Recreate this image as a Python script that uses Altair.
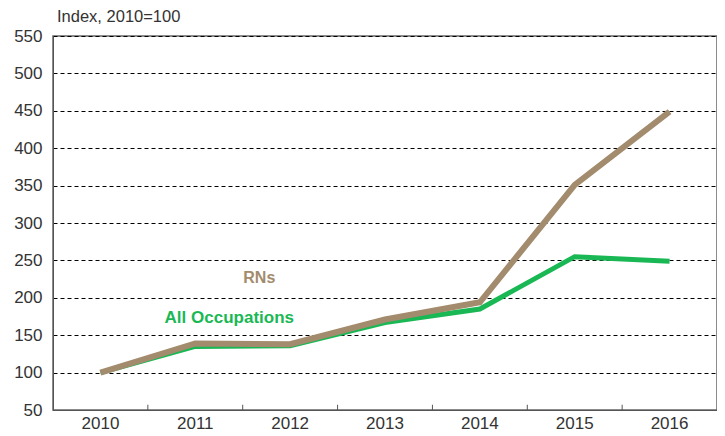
import altair as alt
import pandas as pd

years = ["2010", "2011", "2012", "2013", "2014", "2015", "2016"]
rns = [100, 139, 138, 171, 194, 351, 449]
all_occ = [100, 135, 136, 167, 185, 255, 249]
y_ticks = [50, 100, 150, 200, 250, 300, 350, 400, 450, 500, 550]

series_names = ["All Occupations", "RNs"]
colors = ["#1ab855", "#a38b6d"]

rows = []
for i, y in enumerate(years):
    rows.append({"year": y, "series": "All Occupations", "value": all_occ[i], "order": 0})
    rows.append({"year": y, "series": "RNs", "value": rns[i], "order": 1})
df = pd.DataFrame(rows)

labels = pd.DataFrame({
    "year": ["2011", "2011"],
    "series": ["RNs", "All Occupations"],
    "value": [227, 173],
})

ticks_df = pd.DataFrame({"year": years[1:], "y0": [50] * 6, "y1": [57] * 6})

xscale = alt.Scale(type="band", domain=years, paddingInner=0, paddingOuter=0)
yscale = alt.Scale(domain=[50, 550], nice=False, zero=False)
xaxis = alt.Axis(labelAngle=0, ticks=False, domainColor="#555", labelFontSize=17,
                 labelColor="#333", labelFont="Liberation Sans", labelPadding=5, grid=False,
                 labelOverlap=False)
yaxis = alt.Axis(values=y_ticks, tickCount=11, ticks=False, domainColor="#555",
                 gridColor="#000", gridDash=[4, 3], gridWidth=1,
                 labelFontSize=17, labelColor="#333", labelFont="Liberation Sans",
                 labelPadding=11, labelOverlap=False)

color = alt.Color("series:N", scale=alt.Scale(domain=series_names, range=colors), legend=None)

lines = alt.Chart(df).mark_line(strokeJoin="miter").encode(
    x=alt.X("year:O", scale=xscale, bandPosition=0.5, axis=xaxis, title=None),
    y=alt.Y("value:Q", title=None, scale=yscale, axis=yaxis),
    color=color, order="order:Q",
    strokeWidth=alt.StrokeWidth("series:N", scale=alt.Scale(domain=series_names, range=[5, 6]), legend=None),
)

tick_marks = alt.Chart(ticks_df).mark_rule(color="#555", strokeWidth=1).encode(
    x=alt.X("year:O", scale=xscale, bandPosition=0, axis=xaxis, title=None),
    y=alt.Y("y0:Q", scale=yscale, axis=yaxis, title=None),
    y2="y1:Q",
)

text_rns = alt.Chart(labels[labels.series == "RNs"]).mark_text(
    fontWeight="bold", fontSize=16, font="Liberation Sans", dx=64, color="#a38b6d"
).encode(x=alt.X("year:O", scale=xscale, bandPosition=0.5, axis=xaxis, title=None),
         y=alt.Y("value:Q", scale=yscale, axis=yaxis, title=None), text="series:N")

text_all = alt.Chart(labels[labels.series == "All Occupations"]).mark_text(
    fontWeight="bold", fontSize=17, font="Liberation Sans", dx=34, color="#1ab855"
).encode(x=alt.X("year:O", scale=xscale, bandPosition=0.5, axis=xaxis, title=None),
         y=alt.Y("value:Q", scale=yscale, axis=yaxis, title=None), text="series:N")

chart = alt.layer(lines, tick_marks, text_rns, text_all).properties(
    width=664, height=374,
    padding={"left": 5, "top": 0, "right": 0, "bottom": 0},
    title=alt.TitleParams("Index, 2010=100", anchor="start", frame="group", fontSize=16.5,
                          fontWeight="normal", font="Liberation Sans", color="#333", offset=2, dx=4),
).configure_view(stroke="#666", strokeWidth=1.5)

chart.save("out.html", embed_options={"renderer": "svg", "actions": False})
